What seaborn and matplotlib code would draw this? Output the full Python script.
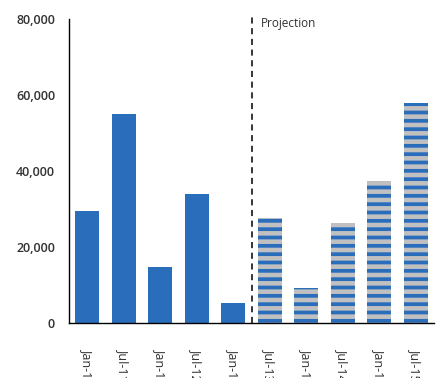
import matplotlib
matplotlib.use("Agg")
import matplotlib.pyplot as plt
import seaborn as sns
import pandas as pd
from matplotlib.ticker import FuncFormatter, FixedLocator

# Half-yearly values; the last five periods are projections
periods = ["Jan-11", "Jul-11", "Jan-12", "Jul-12", "Jan-13",
           "Jul-13", "Jan-14", "Jul-14", "Jan-15", "Jul-15"]
values = [29500, 55000, 14800, 34000, 5300,
          27600, 9200, 26300, 37400, 57900]
status = ["Actual"] * 5 + ["Projection"] * 5

BLUE = "#2A6EBB"
GREY = "#C0C0C0"
TEXT = "#333333"
STRIPE_LW = 2.7

sns.set_style("white")
plt.rcParams["font.family"] = ["Open Sans", "DejaVu Sans"]
plt.rcParams["hatch.color"] = BLUE
plt.rcParams["hatch.linewidth"] = STRIPE_LW

df = pd.DataFrame({"period": periods, "value": values, "status": status})

fig = plt.figure(figsize=(4.4, 3.78), dpi=100)
ax = fig.add_axes([69 / 440, 1 - 323 / 378, (434 - 69) / 440, (323 - 19) / 378])

sns.barplot(data=df, x="period", y="value", hue="status",
            palette={"Actual": BLUE, "Projection": GREY}, saturation=1,
            dodge=False, width=0.67, legend=False, ax=ax, linewidth=0)

# Projected bars get horizontal blue stripes
for patch, st in zip(ax.patches, status):
    if st == "Projection":
        patch.set_hatch("--")
        patch.set_edgecolor(BLUE)
        patch.set_linewidth(0)
        if hasattr(patch, "set_hatch_linewidth"):
            patch.set_hatch_linewidth(STRIPE_LW)

ax.set_xlim(-0.5, len(periods) - 0.5)
ax.set_ylim(0, 80000)
ax.set_yticks([0, 20000, 40000, 60000, 80000])
ax.yaxis.set_major_formatter(FuncFormatter(lambda v, _: f"{int(v):,}"))
ax.tick_params(axis="y", length=0, pad=10, labelsize=9, labelcolor=TEXT)
for lbl in ax.get_yticklabels():
    lbl.set_fontweight("semibold")

ax.set_xticks(range(len(periods)))
ax.set_xticklabels(periods, rotation=270, fontsize=9, color=TEXT)
ax.tick_params(axis="x", which="major", length=0, pad=18)
ax.xaxis.set_minor_locator(FixedLocator([i + 0.5 for i in range(len(periods))]))
ax.tick_params(axis="x", which="minor", length=4, width=1, color="black", direction="out")

ax.set_xlabel("")
ax.set_ylabel("")
for side in ["top", "right"]:
    ax.spines[side].set_visible(False)
for side in ["left", "bottom"]:
    ax.spines[side].set_color("black")
    ax.spines[side].set_linewidth(1)

# Divider between actual and projected periods
ax.plot([4.5, 4.5], [0, 81600], color="black", lw=1.1,
        linestyle=(0, (4, 3)), clip_on=False)
ax.text(4.75, 78700, "Projection", fontsize=8.5, color=TEXT,
        ha="left", va="center")

fig.savefig("out.png", dpi=100)
